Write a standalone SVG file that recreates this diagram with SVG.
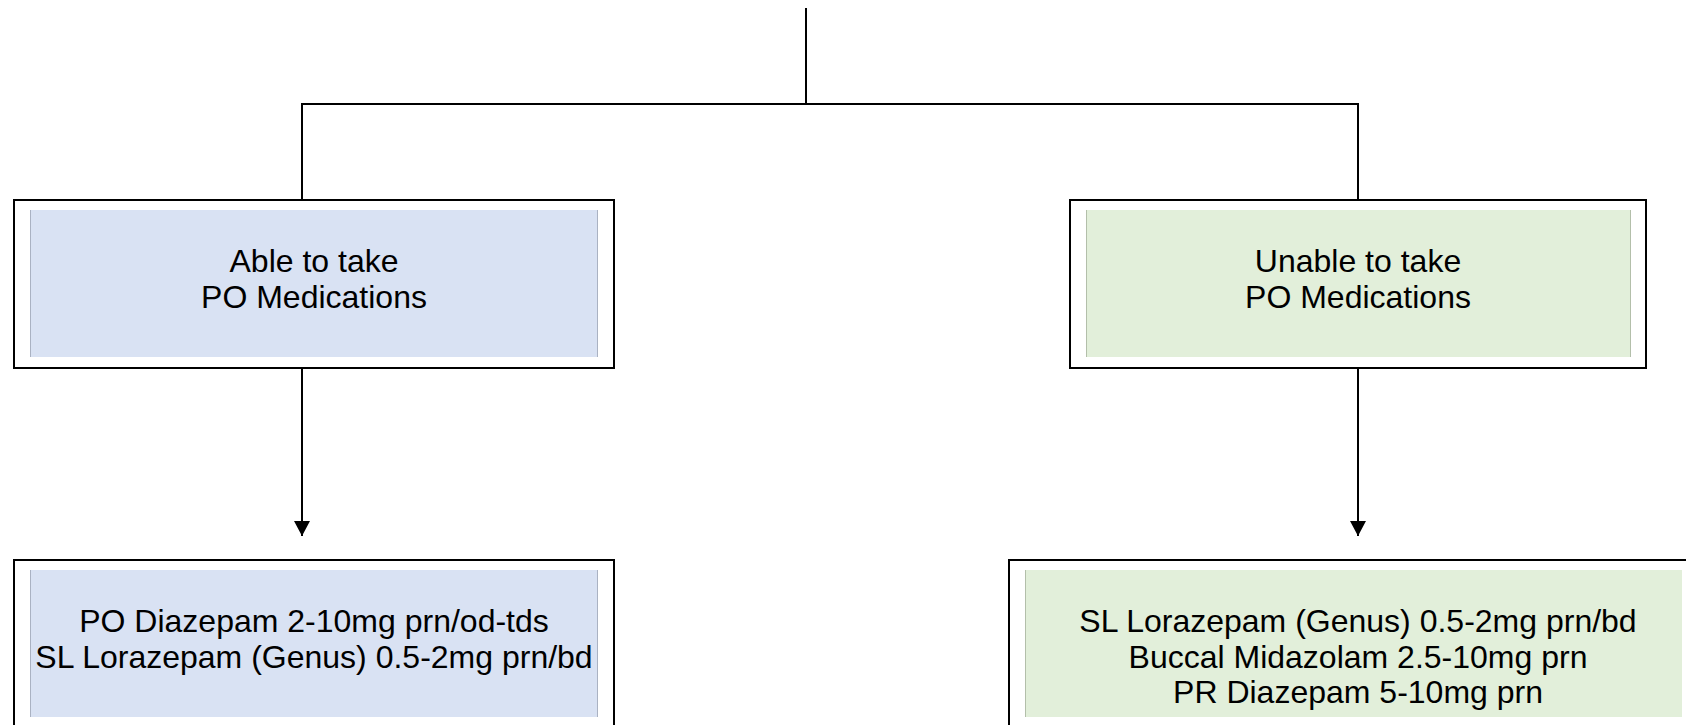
<svg xmlns="http://www.w3.org/2000/svg" width="1686" height="725" viewBox="0 0 1686 725">
  <style>
    .frame { fill: #ffffff; stroke: #000000; stroke-width: 2; }
    .fill-blue { fill: #d9e2f3; }
    .fill-green { fill: #e2efda; }
    .edge-blue { stroke: #aab2c2; stroke-width: 1; }
    .edge-green { stroke: #b3bfaa; stroke-width: 1; }
    .label { font-family: "Liberation Sans", Arial, sans-serif; font-size: 32px; fill: #000000; text-anchor: middle; }
    .wire { fill: none; stroke: #000000; stroke-width: 2; }
  </style>
  <defs>
    <marker id="arrow" markerUnits="userSpaceOnUse" markerWidth="16" markerHeight="18" refX="15" refY="8" orient="auto">
      <path d="M0,0 L15,8 L0,16 Z" fill="#000000"/>
    </marker>
  </defs>

  <rect width="1686" height="725" fill="#ffffff"/>

  <!-- connectors -->
  <g id="connectors">
    <line class="wire" x1="806" y1="8" x2="806" y2="104" stroke-width="1.5"/>
    <polyline class="wire" points="302,200 302,104 1358,104 1358,200"/>
    <line class="wire" x1="302" y1="368" x2="302" y2="536" marker-end="url(#arrow)"/>
    <line class="wire" x1="1358" y1="368" x2="1358" y2="536" marker-end="url(#arrow)"/>
  </g>

  <!-- able to take oral medication -->
  <g id="node-able">
    <rect class="frame" x="14" y="200" width="600" height="168"/>
    <rect class="fill-blue" x="30" y="210" width="568" height="147"/>
    <line class="edge-blue" x1="30.5" y1="210" x2="30.5" y2="357"/>
    <line class="edge-blue" x1="597.5" y1="210" x2="597.5" y2="357"/>
    <text class="label" x="314" y="272">Able to take</text>
    <text class="label" x="314" y="308">PO Medications</text>
  </g>

  <!-- unable to take oral medication -->
  <g id="node-unable">
    <rect class="frame" x="1070" y="200" width="576" height="168"/>
    <rect class="fill-green" x="1086" y="210" width="545" height="147"/>
    <line class="edge-green" x1="1086.5" y1="210" x2="1086.5" y2="357"/>
    <line class="edge-green" x1="1630.5" y1="210" x2="1630.5" y2="357"/>
    <text class="label" x="1358" y="272">Unable to take</text>
    <text class="label" x="1358" y="308">PO Medications</text>
  </g>

  <!-- oral options -->
  <g id="node-oral-options">
    <rect class="frame" x="14" y="560" width="600" height="170"/>
    <rect class="fill-blue" x="30" y="570" width="568" height="147"/>
    <line class="edge-blue" x1="30.5" y1="570" x2="30.5" y2="717"/>
    <line class="edge-blue" x1="597.5" y1="570" x2="597.5" y2="717"/>
    <text class="label" x="314" y="632">PO Diazepam 2-10mg prn/od-tds</text>
    <text class="label" x="314" y="668">SL Lorazepam (Genus) 0.5-2mg prn/bd</text>
  </g>

  <!-- non-oral options -->
  <g id="node-nonoral-options">
    <rect class="frame" x="1009" y="560" width="700" height="170"/>
    <rect class="fill-green" x="1025" y="570" width="657" height="147"/>
    <line class="edge-green" x1="1025.5" y1="570" x2="1025.5" y2="717"/>
    <text class="label" x="1358" y="632">SL Lorazepam (Genus) 0.5-2mg prn/bd</text>
    <text class="label" x="1358" y="668">Buccal Midazolam 2.5-10mg prn</text>
    <text class="label" x="1358" y="703">PR Diazepam 5-10mg prn</text>
  </g>
</svg>
